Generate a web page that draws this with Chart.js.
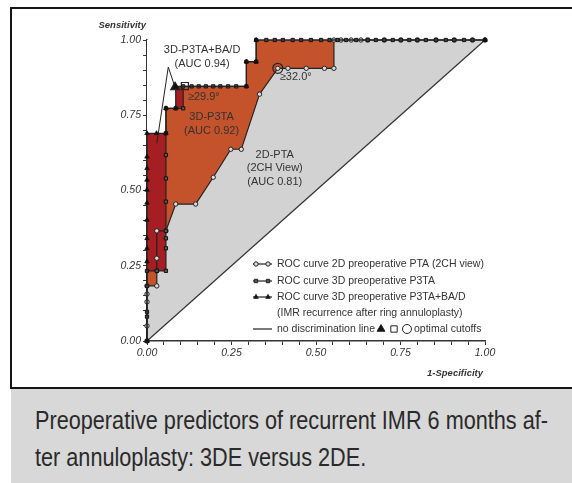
<!DOCTYPE html>
<html>
<head>
<meta charset="utf-8">
<script src="https://cdn.jsdelivr.net/npm/chart.js@4.4.1/dist/chart.umd.min.js"></script>
<style>
  html, body { margin: 0; padding: 0; background: #fff; }
  body { width: 572px; height: 483px; position: relative; overflow: hidden; }
  #frame {
    position: absolute; left: 10px; top: 7px; width: 640px; height: 382px;
    border: 2px solid #151515; box-sizing: border-box;
  }
  #caption {
    position: absolute; left: 11px; top: 389px; width: 561px; height: 94px;
    background: #d8d8d8; color: #2a2a2a;
    font-family: "Liberation Sans", Arial, sans-serif;
    font-size: 25px; line-height: 37px; box-sizing: border-box; padding: 13px 0 0 24px;
    white-space: nowrap;
  }
  #caption span { display: inline-block; transform-origin: 0 50%; }
  #chart { position: absolute; left: 0; top: 0; }
</style>
</head>
<body>
<div id="frame"></div>
<canvas id="chart" width="572" height="389"></canvas>
<div id="caption"><span>Preoperative predictors of recurrent IMR 6 months af-</span><br><span>ter annuloplasty: 3DE versus 2DE.</span></div>

<script>
// ROC curve 2D preoperative PTA (2CH view)
const pta2dX = [0, 0, 0, 0, 0, 0.029, 0.029, 0.029, 0.029, 0.056, 0.085, 0.144, 0.196, 0.248, 0.279, 0.333, 0.387, 0.417, 0.471, 0.525, 0.553,
                0.553, 0.574, 0.604, 0.633, 0.653, 0.702, 0.751, 0.8, 0.855, 0.909, 0.963, 1.0];
const pta2dY = [0, 0.05, 0.13, 0.156, 0.183, 0.183, 0.233, 0.275, 0.366, 0.366, 0.455, 0.455, 0.544, 0.637, 0.637, 0.82, 0.906, 0.906, 0.906, 0.906, 0.906,
                1, 1, 1, 1, 1, 1, 1, 1, 1, 1, 1, 1];

// ROC curve 3D preoperative P3TA
const p3taX = [0, 0, 0, 0, 0, 0.029, 0.056, 0.056, 0.056, 0.056, 0.056, 0.056, 0.056, 0.056, 0.056, 0.085, 0.107,
               0.107, 0.132, 0.153, 0.174, 0.196, 0.217, 0.24, 0.264, 0.294, 0.294, 0.323,
               0.323, 0.353, 0.378, 0.402, 0.431, 0.456, 0.485, 0.515, 0.54, 0.564, 0.589, 0.619, 0.653, 0.677,
               0.702, 0.727, 0.751, 0.776, 0.8, 0.825, 0.855, 0.884, 0.909, 0.938, 0.963, 1.0];
const p3taY = [0, 0.081, 0.097, 0.183, 0.233, 0.233, 0.233, 0.308, 0.341, 0.366, 0.463, 0.54, 0.618, 0.69, 0.773, 0.773, 0.773,
               0.846, 0.846, 0.846, 0.846, 0.846, 0.846, 0.846, 0.846, 0.846, 0.928, 0.928,
               1, 1, 1, 1, 1, 1, 1, 1, 1, 1, 1, 1, 1, 1,
               1, 1, 1, 1, 1, 1, 1, 1, 1, 1, 1, 1];

// ROC curve 3D preoperative P3TA+BA/D
const badX = [0, 0, 0, 0, 0, 0, 0, 0, 0, 0, 0, 0.028, 0.056, 0.056, 0.085, 0.085, 0.294, 0.294, 0.323, 0.323, 1.0];
const badY = [0, 0.264, 0.308, 0.341, 0.402, 0.459, 0.502, 0.535, 0.574, 0.612, 0.69, 0.69, 0.69, 0.773, 0.773, 0.846, 0.846, 0.928, 0.928, 1, 1];

// no discrimination line
const diagX = [0, 1];
const diagY = [0, 1];

// optimal cutoffs: P3TA+BA/D, P3TA, 2D PTA
const cutoffX = [0.083, 0.112, 0.387];
const cutoffY = [0.843, 0.847, 0.906];
const cutoffStyles = ['triangle', 'rect', 'circle'];

// callout for the P3TA+BA/D label
const calloutX = [0.083, 0.063, 0.029];
const calloutY = [0.843, 0.91, 0.657];

const tickLabels = ['0.00', '0.25', '0.50', '0.75', '1.00'];

const FONT = '"Liberation Sans", Arial, sans-serif';
const INK = '#333';

const toPoints = (xs, ys) => xs.map((v, i) => ({ x: v, y: ys[i] }));
const isMajor = v => Math.abs(v * 4 - Math.round(v * 4)) < 1e-6;

const notes = [
    { text: '3D-P3TA+BA/D', x: 0.163, y: 0.966, align: 'center' },
    { text: '(AUC 0.94)', x: 0.163, y: 0.922, align: 'center' },
    { text: '\u226529.9\u00b0', x: 0.121, y: 0.81, align: 'left' },
    { text: '3D-P3TA', x: 0.191, y: 0.743, align: 'center' },
    { text: '(AUC 0.92)', x: 0.191, y: 0.699, align: 'center' },
    { text: '2D-PTA', x: 0.378, y: 0.618, align: 'center' },
    { text: '(2CH View)', x: 0.378, y: 0.574, align: 'center' },
    { text: '(AUC 0.81)', x: 0.378, y: 0.529, align: 'center' },
    { text: '\u226532.0\u00b0', x: 0.393, y: 0.877, align: 'left' }
];

function drawMarker(ctx, style, x, y, r) {
    Chart.helpers.drawPoint(ctx, { pointStyle: style, radius: r, rotation: 0, borderWidth: 1 }, x, y);
}

const overlay = {
    id: 'overlay',
    afterDatasetsDraw(chart) {
        const { ctx, scales: { x, y } } = chart;
        ctx.save();
        ctx.fillStyle = INK;
        ctx.font = '11px ' + FONT;
        ctx.textBaseline = 'middle';
        notes.forEach(n => {
            ctx.textAlign = n.align;
            ctx.fillText(n.text, x.getPixelForValue(n.x), y.getPixelForValue(n.y));
        });
        ctx.restore();
    },
    afterDraw(chart) {
        const { ctx, chartArea: area } = chart;
        ctx.save();
        // axis titles
        ctx.fillStyle = INK;
        ctx.font = 'italic bold 9.5px ' + FONT;
        ctx.textBaseline = 'middle';
        ctx.textAlign = 'right';
        ctx.fillText('Sensitivity', area.left - 1, 25);
        ctx.fillText('1-Specificity', area.right - 2, 373);

        // legend
        const rows = [
            { text: 'ROC curve 2D preoperative PTA (2CH view)', style: 'circle', fill: '#ddd', r: 2.2 },
            { text: 'ROC curve 3D preoperative P3TA', style: 'rect', fill: '#555', r: 2.4 },
            { text: 'ROC curve 3D preoperative P3TA+BA/D', style: 'triangle', fill: '#111', r: 2.6 },
            { text: '(IMR recurrence after ring annuloplasty)' },
            { text: 'no discrimination line', style: null }
        ];
        const rowY = [264, 281, 297, 313, 329];
        ctx.font = '10.5px ' + FONT;
        ctx.textAlign = 'left';
        ctx.strokeStyle = '#222';
        ctx.lineWidth = 1.2;
        rows.forEach((row, i) => {
            const yy = rowY[i];
            if (i !== 3) {
                ctx.beginPath();
                ctx.moveTo(253, yy);
                ctx.lineTo(272, yy);
                ctx.stroke();
            }
            if (row.style) {
                ctx.fillStyle = row.fill;
                ctx.strokeStyle = '#222';
                ctx.lineWidth = 1;
                drawMarker(ctx, row.style, 256, yy, row.r);
                drawMarker(ctx, row.style, 268, yy, row.r);
                ctx.lineWidth = 1.2;
            }
            ctx.fillStyle = INK;
            ctx.fillText(row.text, 277, yy);
        });
        // optimal cutoff symbols in the legend
        const yy = rowY[4];
        ctx.strokeStyle = '#222';
        ctx.lineWidth = 1;
        ctx.fillStyle = '#111';
        drawMarker(ctx, 'triangle', 381, yy, 4.5);
        ctx.fillStyle = 'rgba(0,0,0,0)';
        drawMarker(ctx, 'rect', 394, yy, 4.5);
        drawMarker(ctx, 'circle', 407, yy, 4.5);
        ctx.fillStyle = INK;
        ctx.fillText('optimal cutoffs', 414, yy);
        ctx.restore();
    }
};

const axisTicks = {
    min: 0,
    max: 1,
    ticks: {
        stepSize: 0.05,
        autoSkip: false,
        maxRotation: 0,
        color: INK,
        padding: 2,
        font: { family: FONT, size: 10.5, style: 'italic' },
        callback: v => isMajor(v) ? tickLabels[Math.round(v * 4)] : ''
    },
    grid: { drawOnChartArea: false, drawTicks: true, tickLength: 4, tickColor: '#333', tickWidth: 1 },
    border: { display: true, color: '#333', width: 1.5 },
    z: 1
};

new Chart(document.getElementById('chart'), {
    type: 'line',
    data: {
        datasets: [
            {
                label: 'ROC curve 3D preoperative P3TA+BA/D',
                data: toPoints(badX, badY),
                fill: 'end',
                backgroundColor: '#ffffff',
                borderColor: '#222',
                borderWidth: 1.2,
                pointStyle: 'triangle',
                pointRadius: 2.6,
                pointBackgroundColor: '#111',
                pointBorderColor: '#111',
                pointBorderWidth: 0.8,
                tension: 0,
                clip: false
            },
            {
                label: 'ROC curve 3D preoperative P3TA',
                data: toPoints(p3taX, p3taY),
                fill: 'end',
                backgroundColor: '#a61e22',
                borderColor: '#222',
                borderWidth: 1.2,
                pointStyle: 'rect',
                pointRadius: 2.3,
                pointBackgroundColor: '#5a5a5a',
                pointBorderColor: '#111',
                pointBorderWidth: 1,
                tension: 0,
                clip: false
            },
            {
                label: 'ROC curve 2D preoperative PTA (2CH view)',
                data: toPoints(pta2dX, pta2dY),
                fill: 'end',
                backgroundColor: '#c4522b',
                borderColor: '#222',
                borderWidth: 1.2,
                pointStyle: 'circle',
                pointRadius: 2.2,
                pointBackgroundColor: '#dcdcdc',
                pointBorderColor: '#222',
                pointBorderWidth: 1,
                tension: 0,
                clip: false
            },
            {
                label: 'no discrimination line',
                data: toPoints(diagX, diagY),
                fill: 'end',
                backgroundColor: '#d2d2d2',
                borderColor: '#333',
                borderWidth: 1.2,
                pointRadius: 0,
                tension: 0,
                clip: false
            },
            {
                label: 'optimal cutoffs',
                data: toPoints(cutoffX, cutoffY),
                showLine: false,
                fill: false,
                pointStyle: cutoffStyles,
                pointRadius: 5,
                pointBackgroundColor: ['#111', 'rgba(0,0,0,0)', 'rgba(0,0,0,0)'],
                pointBorderColor: '#222',
                pointBorderWidth: 1.2,
                clip: false
            },
            {
                label: 'callout',
                data: toPoints(calloutX, calloutY),
                fill: false,
                borderColor: '#222',
                borderWidth: 1,
                pointRadius: 0,
                tension: 0,
                clip: false
            }
        ]
    },
    options: {
        responsive: false,
        animation: false,
        devicePixelRatio: 1,
        layout: { padding: { left: 87, right: 87, top: 40, bottom: 28 } },
        scales: {
            x: Object.assign({ type: 'linear', afterFit: s => { s.height = 20; } }, axisTicks),
            y: Object.assign({ type: 'linear', afterFit: s => { s.width = 60; } }, axisTicks)
        },
        plugins: {
            legend: { display: false },
            tooltip: { enabled: false },
            filler: { drawTime: 'beforeDatasetsDraw' }
        }
    },
    plugins: [overlay]
});

// squeeze the caption into the narrow face of the original
const capLines = document.querySelectorAll('#caption span');
const squeeze = 513 / capLines[0].getBoundingClientRect().width;
capLines.forEach(s => { s.style.transform = 'scaleX(' + squeeze + ')'; });
</script>
</body>
</html>
